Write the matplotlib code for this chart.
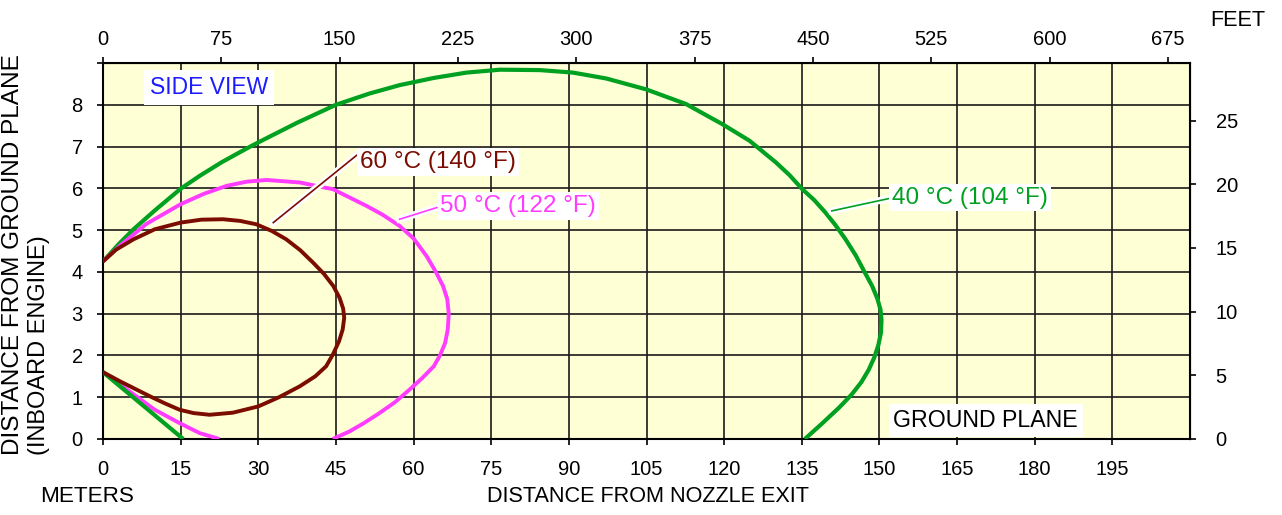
import matplotlib
matplotlib.use("Agg")
import matplotlib.pyplot as plt
import matplotlib.patheffects as pe

plt.rcParams['font.family'] = ['Liberation Sans', 'DejaVu Sans']

# ---- data (meters) ----
x_ticks_m = [0, 15, 30, 45, 60, 75, 90, 105, 120, 135, 150, 165, 180, 195]
x_ticks_ft = [0, 75, 150, 225, 300, 375, 450, 525, 600, 675]
y_ticks_m = [0, 1, 2, 3, 4, 5, 6, 7, 8, 9]
y_tick_labels = ['0', '1', '2', '3', '4', '5', '6', '7', '8', '']
y_ticks_ft = [0, 5, 10, 15, 20, 25]

# 40 degC contour (upper/outer branch)
g40_x = [0, 3, 5.9, 10, 15, 18.7, 23, 27.7, 30, 37.5, 45, 51.5, 57.3, 63.8, 70.2, 76.7, 84.4,
         90.8, 97.2, 104.9, 112.6, 119.6, 124.9, 130, 132.6, 135.1, 137.4, 139.5, 141.5, 143.4,
         145.4, 147.2, 148.6, 149.6, 150.2, 150.4, 150.3, 149.8, 149.0, 147.9, 146.5, 144.6,
         142.2, 139.0, 135.6]
g40_y = [4.25, 4.66, 5.02, 5.47, 5.99, 6.3, 6.63, 6.95, 7.1, 7.57, 8.0, 8.27, 8.47, 8.64, 8.77,
         8.84, 8.83, 8.77, 8.63, 8.37, 8.02, 7.54, 7.14, 6.62, 6.32, 5.98, 5.72, 5.43, 5.12, 4.79,
         4.4, 3.98, 3.66, 3.36, 3.1, 2.85, 2.55, 2.25, 1.95, 1.65, 1.36, 1.06,
         0.75, 0.38, 0.0]
# 40 degC contour (lower branch near ground)
g40_low_x = [0, 15.5]
g40_low_y = [1.6, 0.0]

# 50 degC contour
m50_x = [0, 3.3, 8.4, 15, 19.5, 23.9, 27.8, 31.6, 38, 44.4, 50.9, 54, 57.3, 60, 62.5, 64.3,
         65.7, 66.5, 66.8, 66.6, 66.1, 65.1, 63.9, 61.6, 59.2, 56.4, 53.4, 50.4, 47.6, 44.4]
m50_y = [4.25, 4.63, 5.15, 5.62, 5.87, 6.06, 6.16, 6.2, 6.14, 5.98, 5.58, 5.37, 5.10, 4.8,
         4.38, 4.0, 3.66, 3.35, 3.0, 2.62, 2.3, 2.0, 1.74, 1.45, 1.18, 0.88, 0.62, 0.38,
         0.18, 0.0]
m50_low_x = [0, 5.8, 10, 14.8, 18.7, 22.5]
m50_low_y = [1.6, 1.08, 0.7, 0.38, 0.14, 0.0]

# 60 degC contour (closed loop from upper start to lower start)
b60_x = [0, 2.5, 5.9, 10, 15, 19, 23.2, 26.5, 29.6, 32.6, 35.4, 38.1, 40.6, 42.7, 44.5, 45.7,
         46.4, 46.6, 46.3, 45.6, 44.4, 43.1, 41, 38, 34, 30, 25.1, 20.6, 17.5, 14.8, 12, 9.1,
         6.2, 3.3, 0]
b60_y = [4.25, 4.53, 4.78, 5.02, 5.18, 5.25, 5.26, 5.22, 5.14, 4.98, 4.78, 4.52, 4.22, 3.95,
         3.66, 3.38, 3.12, 2.9, 2.62, 2.34, 2.02, 1.74, 1.5, 1.26, 1.0, 0.78, 0.63, 0.58,
         0.62, 0.70, 0.85, 1.02, 1.2, 1.38, 1.6]

GREEN = '#00A021'
MAGENTA = '#FF3CFF'
BROWN = '#7A0C00'
BLUE = '#1C1CFF'
BG = '#FFFFD6'

W, H = 1282, 515
fig = plt.figure(figsize=(W / 100, H / 100), dpi=100)
L, R, T, B = 103, 1190, 63, 439
ax = fig.add_axes([L / W, 1 - B / H, (R - L) / W, (B - T) / H])
ax.set_facecolor(BG)
ax.set_xlim(0, 210)
ax.set_ylim(0, 9)

ax.set_xticks(x_ticks_m)
ax.set_xticklabels([str(v) for v in x_ticks_m])
ax.set_yticks(y_ticks_m)
ax.set_yticklabels(y_tick_labels)
ax.tick_params(axis='both', direction='out', length=4.5, width=1.2, labelsize=14.5, colors='black')
ax.tick_params(axis='x', pad=10.5)
ax.tick_params(axis='y', pad=10)
ax.grid(True, color='#1a1a1a', linewidth=1.2)
ax.set_axisbelow(True)
for s in ax.spines.values():
    s.set_linewidth(1.5)
    s.set_color('black')

# secondary axes in feet
m2ft = lambda m: m / 0.3048
ft2m = lambda f: f * 0.3048
secx = ax.secondary_xaxis('top', functions=(m2ft, ft2m))
secx.set_xticks(x_ticks_ft)
secx.set_xticklabels([str(v) for v in x_ticks_ft])
secx.tick_params(direction='out', length=4.5, width=1.2, labelsize=14.5, pad=5.5)
secy = ax.secondary_yaxis('right', functions=(m2ft, ft2m))
secy.set_yticks(y_ticks_ft)
secy.set_yticklabels([str(v) for v in y_ticks_ft])
secy.tick_params(direction='out', length=4.5, width=1.2, labelsize=14.5, pad=14)

# contours
lw = 2.8
common = dict(solid_capstyle='butt', solid_joinstyle='round')
ax.plot(g40_x, g40_y, color=GREEN, lw=3.0, zorder=3, **common)
ax.plot(g40_low_x, g40_low_y, color=GREEN, lw=3.0, zorder=3, **common)
ax.plot(m50_x, m50_y, color=MAGENTA, lw=lw, zorder=3, **common)
ax.plot(m50_low_x, m50_low_y, color=MAGENTA, lw=lw, zorder=2.9, **common)
ax.plot(b60_x, b60_y, color=BROWN, lw=lw, zorder=3.1, **common)

# labels with leader lines
stroke = [pe.withStroke(linewidth=5, foreground='white')]
box = dict(boxstyle='square,pad=0.12', facecolor='white', edgecolor='none')
fs_lab = 17.5

ax.plot([32.9, 49.0], [5.18, 6.79], color=BROWN, lw=1.2, path_effects=stroke, zorder=4)
ax.text(49.6, 6.63, '60 °C (140 °F)', color=BROWN, fontsize=fs_lab, ha='left', va='center',
        bbox=box, zorder=5)
ax.plot([57.3, 64.5], [5.26, 5.54], color=MAGENTA, lw=1.2, path_effects=stroke, zorder=4)
ax.text(65.2, 5.58, '50 °C (122 °F)', color=MAGENTA, fontsize=fs_lab, ha='left', va='center',
        bbox=box, zorder=5)
ax.plot([140.8, 152.0], [5.46, 5.76], color=GREEN, lw=1.2, path_effects=stroke, zorder=4)
ax.text(152.4, 5.78, '40 °C (104 °F)', color=GREEN, fontsize=fs_lab, ha='left', va='center',
        bbox=box, zorder=5)

ax.text(9.1, 8.41, 'SIDE VIEW', color=BLUE, fontsize=16.5, ha='left', va='center',
        bbox=dict(boxstyle='square,pad=0.25', facecolor='white', edgecolor='none'), zorder=5)
ax.text(152.7, 0.44, 'GROUND PLANE', color='black', fontsize=16.7, ha='left', va='center',
        bbox=dict(boxstyle='square,pad=0.2', facecolor='white', edgecolor='none'), zorder=5)

# axis titles
fig.text(648 / W, 1 - 497 / H, 'DISTANCE FROM NOZZLE EXIT', fontsize=15.6, ha='center', va='center')
fig.text(40 / W, 1 - 497 / H, 'METERS', fontsize=16.2, ha='left', va='center')
fig.text(1210 / W, 1 - 20 / H, 'FEET', fontsize=15.6, ha='left', va='center')
fig.text(13.5 / W, 1 - 455 / H, 'DISTANCE FROM GROUND PLANE', fontsize=17.6, rotation=90,
         ha='center', va='bottom')
fig.text(39 / W, 1 - 455 / H, '(INBOARD ENGINE)', fontsize=17, rotation=90,
         ha='center', va='bottom')

fig.savefig('out.png', dpi=100, facecolor='white')
